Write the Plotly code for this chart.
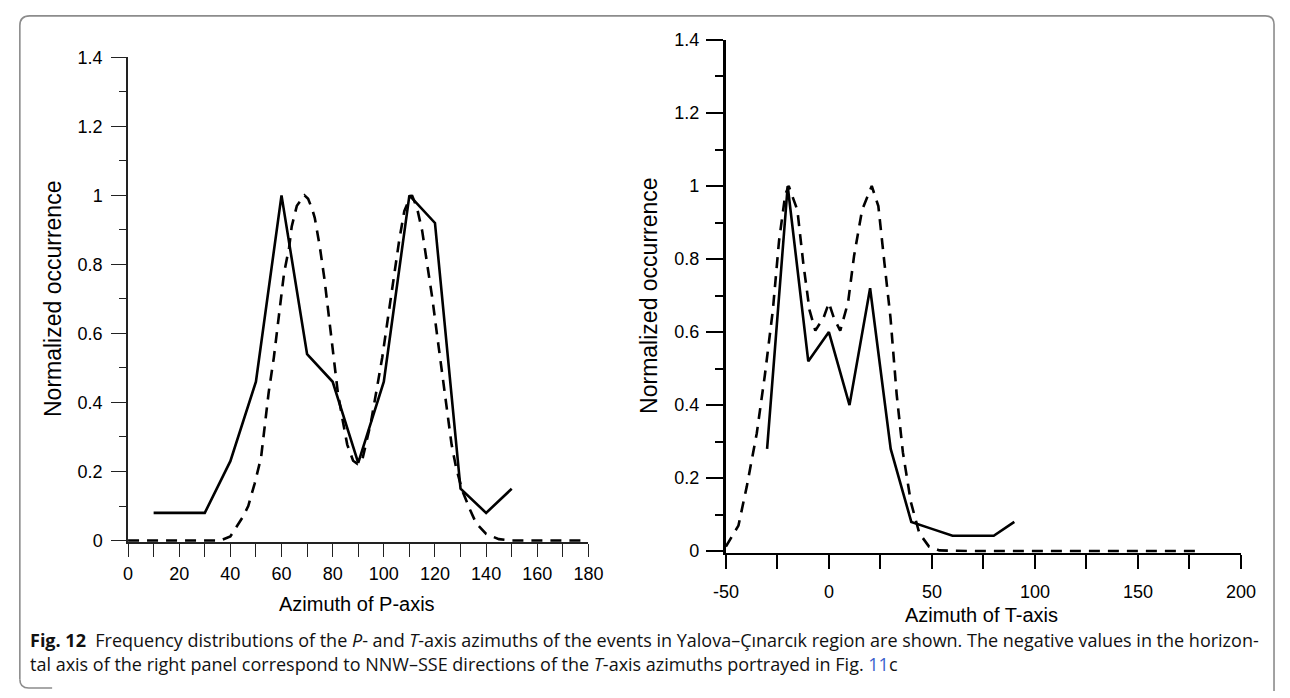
import plotly.graph_objects as go

# ---------------- data ----------------
# Left panel: P-axis azimuths
p_az = [10, 20, 30, 40, 50, 60, 70, 80, 90, 100, 110, 120, 130, 140, 150]
p_obs = [0.08, 0.08, 0.08, 0.23, 0.46, 1.0, 0.54, 0.46, 0.225, 0.46, 1.0, 0.92, 0.15, 0.08, 0.15]

p_fit_x = [0, 10, 20, 30, 36, 40, 42.5, 45, 47, 49.5, 52, 53.5, 55, 57, 58.5, 60, 61, 63, 64, 66, 68, 69,
           70.4, 72, 73, 75, 76.8, 78, 79.3, 80.6, 82, 83.8, 85.7, 88, 89.7, 91.5, 93, 95, 97.2, 99.4,
           101.6, 104, 106, 108, 110, 111, 113, 115, 117, 119, 120.8, 122.7, 124.6, 126.5, 128.3,
           130.7, 133.8, 136.1, 140, 145, 150, 160, 170, 178]
p_fit_y = [0, 0, 0, 0, 0, 0.012, 0.04, 0.07, 0.1, 0.165, 0.24, 0.33, 0.43, 0.53, 0.62, 0.70, 0.775, 0.85,
           0.91, 0.97, 0.99, 1.0, 0.99, 0.96, 0.935, 0.85, 0.757, 0.68, 0.606, 0.513, 0.43, 0.353,
           0.278, 0.231, 0.222, 0.231, 0.278, 0.344, 0.437, 0.531, 0.644, 0.775, 0.869, 0.954, 0.99,
           1.0, 0.963, 0.897, 0.80, 0.70, 0.597, 0.494, 0.381, 0.278, 0.21, 0.144, 0.088, 0.05, 0.019,
           0.004, 0, 0, 0, 0]

# Right panel: T-axis azimuths
t_az = [-30, -20, -10, 0, 10, 20, 30, 40, 50, 60, 70, 80, 90]
t_obs = [0.28, 1.0, 0.52, 0.6, 0.4, 0.72, 0.28, 0.08, 0.061, 0.042, 0.042, 0.042, 0.08]

t_fit_x = [-50, -43.9, -39.9, -35, -31.1, -27.2, -24.2, -21.2, -19.5, -15.3, -12.4, -9.4, -6.6, -2.6,
           0, 2.4, 5.5, 9.3, 12.2, 16.1, 20.8, 24, 27, 29.9, 32.9, 35.9, 39.8, 43.9, 48.6, 53.6,
           70, 100, 130, 160, 180]
t_fit_y = [0.0125, 0.07, 0.176, 0.323, 0.481, 0.66, 0.85, 0.976, 1.0, 0.934, 0.787, 0.66, 0.604,
           0.639, 0.68, 0.639, 0.604, 0.681, 0.808, 0.934, 1.0, 0.945, 0.787, 0.639, 0.429, 0.271,
           0.134, 0.049, 0.0125, 0.002, 0, 0, 0, 0, 0]

y_ticks = [0, 0.2, 0.4, 0.6, 0.8, 1.0, 1.2, 1.4]
y_tick_text = ["0", "0.2", "0.4", "0.6", "0.8", "1", "1.2", "1.4"]
p_ticks = [0, 20, 40, 60, 80, 100, 120, 140, 160, 180]
p_tick_text = ["0", "20", "40", "60", "80", "100", "120", "140", "160", "180"]
t_ticks = [-50, 0, 50, 100, 150, 200]
t_tick_text = ["-50", "0", "50", "100", "150", "200"]

caption_1 = ("<b>Fig. 12</b>\u00a0\u00a0Frequency distributions of the <i>P</i>- and <i>T</i>-axis azimuths "
             "of the events in Yalova–Çınarcık region are shown. The negative values in the horizon-")
caption_2 = ("tal axis of the right panel correspond to NNW–SSE directions of the <i>T</i>-axis "
             "azimuths portrayed in Fig. <span style='color:#3a5fcd'>11</span>c")

# ---------------- figure ----------------
W, H = 1290, 698
FONT = "Liberation Sans, Arial, sans-serif"


def px(x):
    return x / W


def py(y):
    return 1 - y / H


fig = go.Figure()
fig.add_trace(go.Scatter(x=p_fit_x, y=p_fit_y, mode="lines", xaxis="x", yaxis="y",
                         line=dict(color="black", width=2.6, dash="11px,8px"), showlegend=False))
fig.add_trace(go.Scatter(x=p_az, y=p_obs, mode="lines", xaxis="x", yaxis="y",
                         line=dict(color="black", width=2.6), showlegend=False))
fig.add_trace(go.Scatter(x=t_fit_x, y=t_fit_y, mode="lines", xaxis="x2", yaxis="y2",
                         line=dict(color="black", width=2.6, dash="11px,8px"), showlegend=False))
fig.add_trace(go.Scatter(x=t_az, y=t_obs, mode="lines", xaxis="x2", yaxis="y2",
                         line=dict(color="black", width=2.6), showlegend=False))

tickfont = dict(family=FONT, size=18, color="black")

# left panel: x 0..180 at px 117.6..588.2 ; y 0..1.4 at py 545.3..48.6
fig.update_layout(
    xaxis=dict(domain=[px(117.6), px(588.2)], range=[0, 180], anchor="y",
               showline=True, linecolor="#222", linewidth=1.6, showgrid=False, zeroline=False,
               ticks="outside", ticklen=13, tickwidth=1.4, tickcolor="#222",
               tickvals=p_ticks, ticktext=p_tick_text, tickfont=tickfont, ticklabelstandoff=2,
               minor=dict(ticks="outside", dtick=10, ticklen=13, tickwidth=1.4, tickcolor="#222")),
    yaxis=dict(domain=[py(546.8), py(48.6)], range=[-0.004, 1.4], anchor="x",
               showline=True, linecolor="#222", linewidth=1.6, showgrid=False, zeroline=False,
               ticks="outside", ticklen=15, tickwidth=1.4, tickcolor="#222",
               tickvals=y_ticks, ticktext=y_tick_text, tickfont=tickfont, ticklabelstandoff=5,
               minor=dict(ticks="outside", dtick=0.1, tick0=0, ticklen=7, tickwidth=1.4, tickcolor="#222")),
    # right panel: x -50..200 at px 728.7..1255.2 ; y 0..1.4 at py 556.3..30.8
    xaxis2=dict(domain=[px(728.7), px(1255.2)], range=[-50, 200], anchor="y2",
                showline=True, linecolor="black", linewidth=2.2, showgrid=False, zeroline=False,
                ticks="outside", ticklen=14, tickwidth=1.8, tickcolor="black",
                tickvals=t_ticks, ticktext=t_tick_text, tickfont=tickfont, ticklabelstandoff=8,
                minor=dict(ticks="outside", dtick=25, tick0=0, ticklen=14, tickwidth=1.8, tickcolor="black")),
    yaxis2=dict(domain=[py(557.8), py(30.8)], range=[-0.004, 1.4], anchor="x2",
                showline=True, linecolor="black", linewidth=3.2, showgrid=False, zeroline=False,
                ticks="outside", ticklen=17, tickwidth=2.2, tickcolor="black",
                tickvals=y_ticks, ticktext=y_tick_text, tickfont=tickfont, ticklabelstandoff=3,
                minor=dict(ticks="outside", dtick=0.1, tick0=0, ticklen=8, tickwidth=1.6, tickcolor="black")),
    width=W, height=H, margin=dict(l=0, r=0, t=0, b=0),
    paper_bgcolor="white", plot_bgcolor="white", showlegend=False,
)

title_font = dict(family=FONT, size=20, color="black")
ytitle_font = dict(family=FONT, size=23, color="black")
cap_font = dict(family="Open Sans, Noto Sans, sans-serif", size=18, color="#111")

annotations = [
    dict(text="Azimuth of P-axis", x=px(352), y=py(611), font=title_font),
    dict(text="Azimuth of T-axis", x=px(990), y=py(622), font=title_font),
    dict(text="Normalized occurrence", x=px(41), y=py(297), font=ytitle_font, textangle=-90),
    dict(text="Normalized occurrence", x=px(650), y=py(294), font=ytitle_font, textangle=-90),
    dict(text=caption_1, x=px(15), y=py(648), font=cap_font, xanchor="left"),
    dict(text=caption_2, x=px(15), y=py(672), font=cap_font, xanchor="left"),
]
for a in annotations:
    a.update(xref="paper", yref="paper", showarrow=False)
    a.setdefault("xanchor", "center")
    a.setdefault("yanchor", "middle")
fig.update_layout(annotations=annotations)

# rounded frame around the figure
path = (f"M {px(7)},{py(688)} L {px(7)},{py(16)} Q {px(7)},{py(6)} {px(17)},{py(6)} "
        f"L {px(1280)},{py(6)} Q {px(1289)},{py(6)} {px(1289)},{py(15)} L {px(1289)},{py(700)}")
path2 = f"M {px(7)},{py(688)} Q {px(7)},{py(697)} {px(16)},{py(697)} L {px(40)},{py(697)}"
fig.add_shape(type="path", path=path, xref="paper", yref="paper",
              line=dict(color="#8c8c8c", width=1.6))
fig.add_shape(type="path", path=path2, xref="paper", yref="paper",
              line=dict(color="#8c8c8c", width=1.6))

fig.write_html("out.html")
